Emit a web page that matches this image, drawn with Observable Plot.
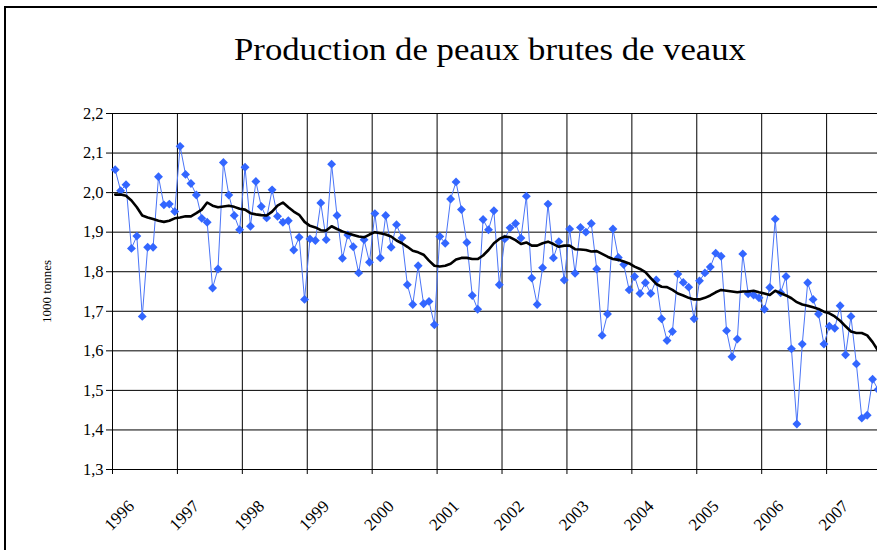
<!DOCTYPE html>
<html><head><meta charset="utf-8">
<script src="https://cdn.jsdelivr.net/npm/d3@7"></script>
<script src="https://cdn.jsdelivr.net/npm/@observablehq/plot@0.6"></script>
<style>
html,body{margin:0;padding:0;background:#fff;overflow:hidden;width:877px;height:550px}
#wrap{position:relative;width:877px;height:550px;overflow:hidden}
#frame{position:absolute;left:4px;top:6px;width:950px;height:650px;border-left:2px solid #000;border-top:2px solid #000;box-sizing:border-box}
#title{position:absolute;left:0;width:980px;top:32px;text-align:center;font-family:"Liberation Serif",serif;font-size:31px;color:#000;white-space:nowrap;transform:scaleX(1.12);transform-origin:490px 0}
#chart{position:absolute;left:0;top:0}
</style>
</head><body>
<div id="wrap"><div id="frame"></div><div id="chart"></div><div id="title">Production de peaux brutes de veaux</div></div>
<script>
const yearLabels = ["1996","1997","1998","1999","2000","2001","2002","2003","2004","2005","2006","2007"];
const yTicks = [1.3,1.4,1.5,1.6,1.7,1.8,1.9,2.0,2.1,2.2];
const yAxisTitle = "1000 tonnes";
// monthly production, Jan 1996 - Oct 2007
const production = [
  2.058,2.005,2.020,1.859,1.890,1.687,1.862,1.862,2.040,1.969,1.971,1.952,
  2.117,2.046,2.023,1.994,1.935,1.925,1.759,1.807,2.076,1.994,1.942,1.906,
  2.064,1.915,2.028,1.965,1.936,2.007,1.940,1.925,1.929,1.855,1.887,1.730,
  1.883,1.879,1.974,1.881,2.072,1.942,1.834,1.893,1.863,1.797,1.881,1.824,
  1.947,1.835,1.942,1.862,1.919,1.885,1.767,1.717,1.815,1.719,1.725,1.666,
  1.889,1.872,1.984,2.027,1.957,1.874,1.740,1.705,1.932,1.906,1.954,1.767,
  1.883,1.911,1.922,1.885,1.991,1.784,1.717,1.810,1.971,1.835,1.876,1.779,
  1.908,1.796,1.912,1.900,1.922,1.807,1.639,1.693,1.908,1.836,1.818,1.754,
  1.788,1.745,1.772,1.745,1.779,1.681,1.626,1.649,1.794,1.773,1.761,1.681,
  1.777,1.797,1.812,1.847,1.839,1.651,1.585,1.630,1.845,1.744,1.741,1.734,
  1.705,1.760,1.933,1.747,1.788,1.605,1.415,1.617,1.772,1.730,1.693,1.617,
  1.662,1.657,1.714,1.590,1.687,1.567,1.430,1.437,1.528,1.502
];
// smoothed trend (black line)
const trend = [
  1.995,1.995,1.992,1.980,1.963,1.942,1.937,1.933,1.929,1.926,1.929,1.935,
  1.937,1.940,1.940,1.948,1.957,1.975,1.967,1.963,1.965,1.967,1.964,1.959,
  1.957,1.948,1.945,1.943,1.942,1.952,1.967,1.975,1.963,1.952,1.944,1.926,
  1.916,1.912,1.905,1.904,1.915,1.908,1.902,1.897,1.893,1.889,1.887,1.894,
  1.900,1.897,1.894,1.889,1.879,1.872,1.863,1.853,1.849,1.843,1.828,1.815,
  1.813,1.815,1.820,1.831,1.835,1.835,1.832,1.832,1.841,1.855,1.872,1.883,
  1.889,1.887,1.880,1.870,1.874,1.866,1.866,1.872,1.876,1.870,1.863,1.866,
  1.866,1.857,1.856,1.855,1.851,1.852,1.845,1.838,1.832,1.830,1.826,1.821,
  1.813,1.807,1.799,1.784,1.769,1.762,1.761,1.754,1.745,1.740,1.734,1.730,
  1.730,1.734,1.740,1.748,1.754,1.752,1.750,1.748,1.750,1.750,1.752,1.748,
  1.745,1.741,1.752,1.746,1.740,1.733,1.723,1.717,1.714,1.710,1.706,1.699,
  1.695,1.687,1.676,1.662,1.649,1.645,1.645,1.639,1.622,1.601
];

const rows = production.map((v, i) => ({i: i + 0.5, v, t: trend[i]}));
const bounds = yearLabels.map((d, i) => i * 12);
const fmt = d => d.toFixed(1).replace(".", ",");

const chart = Plot.plot({
  width: 877, height: 550,
  marginLeft: 112, marginRight: 0, marginTop: 113, marginBottom: 81,
  style: {fontFamily: "'Liberation Serif', serif", fontSize: "16px", background: "transparent", overflow: "visible", color: "#000"},
  x: {domain: [0, 765 / 5.41]},
  y: {domain: [1.3, 2.2]},
  marks: [
    Plot.ruleY(yTicks, {stroke: "#000", strokeWidth: 1}),
    Plot.ruleX(bounds, {stroke: "#000", strokeWidth: 1}),
    Plot.ruleX(bounds, {y1: 1.3, y2: 1.3 - 5 * 0.9 / 356, stroke: "#000"}),
    Plot.axisY({ticks: yTicks, tickFormat: fmt, tickSize: 6, tickPadding: 3, fontSize: 16.5, label: null}),
    Plot.axisX({ticks: [], label: null, tickSize: 0}),
    Plot.line(rows, {x: "i", y: "v", stroke: "#4A74F7", strokeWidth: 1}),
    Plot.dot(rows, {x: "i", y: "v", symbol: "diamond2", r: 4, fill: "#3366FF", stroke: "none"}),
    Plot.line(rows, {x: "i", y: "t", stroke: "#000", strokeWidth: 2.6}),
    Plot.text(yearLabels, {x: (d, i) => i * 12, y: 1.3, text: d => d, rotate: -45, dx: 7, dy: 46, fontSize: 17, textAnchor: "middle"}),
    Plot.text([yAxisTitle], {frameAnchor: "left", dx: -66, rotate: -90, fontSize: 13, textAnchor: "middle", text: d => d})
  ]
});
document.getElementById("chart").appendChild(chart);
</script>
</body></html>
